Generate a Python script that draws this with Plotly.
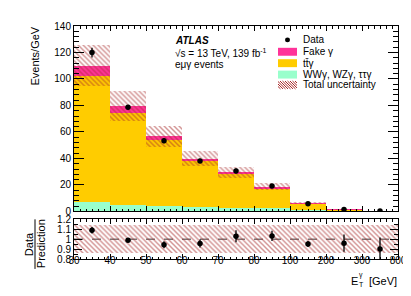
import plotly.graph_objects as go

# ---------------- data ----------------
edge_labels = ["30", "40", "50", "60", "70", "80", "100", "200", "300", "800"]
ww_gamma = [7.0, 5.0, 3.9, 3.2, 2.6, 2.2, 1.0, 0.3, 0.05]          # WWγ, WZγ, ττγ
ttbar_gamma = [95.0, 69.5, 49.7, 35.4, 25.9, 15.4, 4.8, 1.1, 0.23]  # tt̄γ
fake_gamma = [8.0, 5.0, 3.0, 1.2, 1.2, 0.9, 0.3, 0.1, 0.02]         # Fake γ
rel_unc = [0.14, 0.14, 0.14, 0.14, 0.14, 0.14, 0.14, 0.14, 0.14]    # total rel. uncertainty
data_vals = [119.9, 78.7, 53.4, 38.1, 30.6, 19.1, 5.8, 1.44, 0.27]
data_errs = [3.6, 1.6, 2.0, 1.6, 1.8, 0.95, 0.18, 0.13, 0.035]

# ---------------- style ----------------
C_WW = "#99ffcc"
C_TT = "#ffcc00"
C_FAKE = "#ff3399"
C_HATCH = "#a82a2a"
FONT = "Liberation Sans, Arial, sans-serif"

W, H = 411, 296
L, R, T, B = 66, 21, 16, 45


def px(x):
    return (x - L) / (W - L - R)


def py(y):
    return (H - B - y) / (H - T - B)


n = len(ww_gamma)
centers = [i + 0.5 for i in range(n)]
base_tt = ww_gamma
base_fake = [ww_gamma[i] + ttbar_gamma[i] for i in range(n)]
pred = [base_fake[i] + fake_gamma[i] for i in range(n)]
unc = [pred[i] * rel_unc[i] for i in range(n)]
ratio = [data_vals[i] / pred[i] for i in range(n)]
ratio_err = [data_errs[i] / pred[i] for i in range(n)]

hatch = dict(shape="\\", fgcolor=C_HATCH, bgcolor="rgba(0,0,0,0)",
             size=3.5, solidity=0.42, fillmode="overlay")

fig = go.Figure()
fig.add_trace(go.Bar(x=centers, y=ww_gamma, base=[0] * n, width=1,
                     marker=dict(color=C_WW, line=dict(width=0)),
                     xaxis="x", yaxis="y", name="WWγ, WZγ, ττγ"))
fig.add_trace(go.Bar(x=centers, y=ttbar_gamma, base=base_tt, width=1,
                     marker=dict(color=C_TT, line=dict(width=0)),
                     xaxis="x", yaxis="y", name="tt̄γ"))
fig.add_trace(go.Bar(x=centers, y=fake_gamma, base=base_fake, width=1,
                     marker=dict(color=C_FAKE, line=dict(width=0)),
                     xaxis="x", yaxis="y", name="Fake γ"))
fig.add_trace(go.Bar(x=centers, y=[2 * u for u in unc],
                     base=[pred[i] - unc[i] for i in range(n)], width=1,
                     marker=dict(color="rgba(0,0,0,0)", line=dict(width=0), pattern=hatch),
                     xaxis="x", yaxis="y", name="Total uncertainty"))
fig.add_trace(go.Scatter(x=centers, y=data_vals, mode="markers",
                         marker=dict(color="black", size=5.5),
                         error_y=dict(type="data", array=data_errs, color="black",
                                      thickness=1.3, width=0),
                         xaxis="x", yaxis="y", name="Data"))

# ratio panel
fig.add_trace(go.Bar(x=centers, y=[2 * r for r in rel_unc],
                     base=[1 - r for r in rel_unc], width=1,
                     marker=dict(color="rgba(0,0,0,0)", line=dict(width=0), pattern=hatch),
                     xaxis="x2", yaxis="y2"))
fig.add_trace(go.Scatter(x=centers, y=ratio, mode="markers",
                         marker=dict(color="black", size=5.5),
                         error_y=dict(type="data", array=ratio_err, color="black",
                                      thickness=1.3, width=0),
                         xaxis="x2", yaxis="y2"))

tickfont = dict(family=FONT, size=10, color="black")
common_x = dict(range=[0, n], tickmode="array", tickvals=list(range(n + 1)),
                ticks="inside", tickcolor="black", showline=True, linecolor="black",
                linewidth=1, mirror="ticks", showgrid=False, zeroline=False,
                tickfont=tickfont)

main_bottom = py(203)
ratio_top = py(211)

fig.update_layout(
    width=W, height=H,
    margin=dict(l=L, r=R, t=T, b=B, pad=0),
    paper_bgcolor="white", plot_bgcolor="white",
    barmode="overlay", bargap=0, showlegend=False,
    font=dict(family=FONT, color="black"),
    xaxis=dict(domain=[0, 1], anchor="y", showticklabels=False, ticklen=5,
               minor=dict(ticks="inside", ticklen=2.5, dtick=1 / 6, tick0=0,
                          tickcolor="black"),
               **common_x),
    yaxis=dict(domain=[main_bottom, 1], anchor="x", range=[0, 140], dtick=20, tick0=0,
               ticks="inside", ticklen=10, tickcolor="black", showline=True,
               linecolor="black", linewidth=1, mirror="ticks", showgrid=False,
               zeroline=False, tickfont=tickfont,
               minor=dict(ticks="inside", ticklen=5, dtick=4, tick0=0, tickcolor="black")),
    xaxis2=dict(domain=[0, 1], anchor="y2", ticktext=edge_labels, ticklen=5,
                ticklabelstandoff=-8,
                minor=dict(ticks="inside", ticklen=2.5, dtick=1 / 6, tick0=0,
                           tickcolor="black"),
                **common_x),
    yaxis2=dict(domain=[0, ratio_top], anchor="x2", range=[0.8, 1.2],
                tickmode="array", tickvals=[0.8, 0.9, 1.0, 1.1, 1.2],
                ticktext=["0.8", "0.9", "1", "1.1", "1.2"],
                ticks="inside", ticklen=8, tickcolor="black", showline=True,
                linecolor="black", linewidth=1, mirror="ticks", showgrid=False,
                zeroline=False, tickfont=tickfont,
                minor=dict(ticks="inside", ticklen=4, dtick=0.05, tick0=0.8,
                           tickcolor="black")),
)

shapes = []
annotations = []

# dashed line at ratio = 1
shapes.append(dict(type="line", xref="x2", yref="y2", x0=0, x1=n, y0=1, y1=1,
                   line=dict(color="black", width=0.8, dash="dash"), layer="below"))

# ---------- legend (manual) ----------
lx0, lx1 = 270, 289
shapes.append(dict(type="circle", xref="paper", yref="paper",
                   x0=px(277), x1=px(282), y0=py(32.5), y1=py(27.5),
                   fillcolor="black", line=dict(width=0)))
for (y0, y1, col) in [(38, 46, C_FAKE), (49.5, 57.5, C_TT), (61, 69, C_WW)]:
    shapes.append(dict(type="rect", xref="paper", yref="paper",
                       x0=px(lx0), x1=px(lx1), y0=py(y1), y1=py(y0),
                       fillcolor=col, line=dict(width=0)))
hy0, hy1 = 71.5, 79.5
hh = hy1 - hy0
xs = lx0 - hh
while xs < lx1:
    xa, ya = xs, hy0
    xb, yb = xs + hh, hy1
    if xa < lx0:
        ya = hy0 + (lx0 - xa)
        xa = lx0
    if xb > lx1:
        yb = hy0 + (lx1 - xs)
        xb = lx1
    shapes.append(dict(type="line", xref="paper", yref="paper",
                       x0=px(xa), y0=py(ya), x1=px(xb), y1=py(yb),
                       line=dict(color=C_HATCH, width=1)))
    xs += 2.5

leg_items = [("Data", 30), ("Fake γ", 42), ("tt\u0304γ", 53.5),
             ("WWγ, WZγ, ττγ", 65), ("Total uncertainty", 75.5)]
for txt, yy in leg_items:
    annotations.append(dict(text=txt, xref="paper", yref="paper", x=px(292.5), y=py(yy),
                            xanchor="left", yanchor="middle", showarrow=False,
                            font=dict(family=FONT, size=10, color="black")))

# ATLAS labels
annotations.append(dict(text="<b><i>ATLAS</i></b>", xref="paper", yref="paper",
                        x=px(165), y=py(31), xanchor="left", yanchor="middle",
                        showarrow=False, font=dict(family=FONT, size=10, color="black")))
annotations.append(dict(text="√s = 13 TeV, 139 fb<sup>-1</sup>", xref="paper", yref="paper",
                        x=px(165), y=py(43), xanchor="left", yanchor="middle",
                        showarrow=False, font=dict(family=FONT, size=10, color="black")))
annotations.append(dict(text="eμγ events", xref="paper", yref="paper",
                        x=px(165), y=py(55), xanchor="left", yanchor="middle",
                        showarrow=False, font=dict(family=FONT, size=10, color="black")))

# axis titles
annotations.append(dict(text="Events/GeV", xref="paper", yref="paper",
                        x=px(27), y=py(15), xanchor="center", yanchor="top",
                        textangle=-90, showarrow=False,
                        font=dict(family=FONT, size=11, color="black")))
annotations.append(dict(text="Data", xref="paper", yref="paper",
                        x=px(21), y=py(236), xanchor="center", yanchor="middle",
                        textangle=-90, showarrow=False,
                        font=dict(family=FONT, size=11, color="black")))
annotations.append(dict(text="Prediction", xref="paper", yref="paper",
                        x=px(33), y=py(236), xanchor="center", yanchor="middle",
                        textangle=-90, showarrow=False,
                        font=dict(family=FONT, size=11, color="black")))
shapes.append(dict(type="line", xref="paper", yref="paper",
                   x0=px(27), x1=px(27), y0=py(211), y1=py(261),
                   line=dict(color="black", width=1)))

# x-axis title: E_T^γ [GeV]
annotations.append(dict(text="[GeV]", xref="paper", yref="paper",
                        x=px(391), y=py(273), xanchor="right", yanchor="middle",
                        showarrow=False, font=dict(family=FONT, size=11, color="black")))
annotations.append(dict(text="E", xref="paper", yref="paper",
                        x=px(352), y=py(273), xanchor="right", yanchor="middle",
                        showarrow=False, font=dict(family=FONT, size=11, color="black")))
annotations.append(dict(text="T", xref="paper", yref="paper",
                        x=px(348.5), y=py(277), xanchor="left", yanchor="middle",
                        showarrow=False, font=dict(family=FONT, size=7, color="black")))
annotations.append(dict(text="γ", xref="paper", yref="paper",
                        x=px(348.5), y=py(267.5), xanchor="left", yanchor="middle",
                        showarrow=False, font=dict(family=FONT, size=7, color="black")))

fig.update_layout(shapes=shapes, annotations=annotations)
fig.write_html("out.html")
